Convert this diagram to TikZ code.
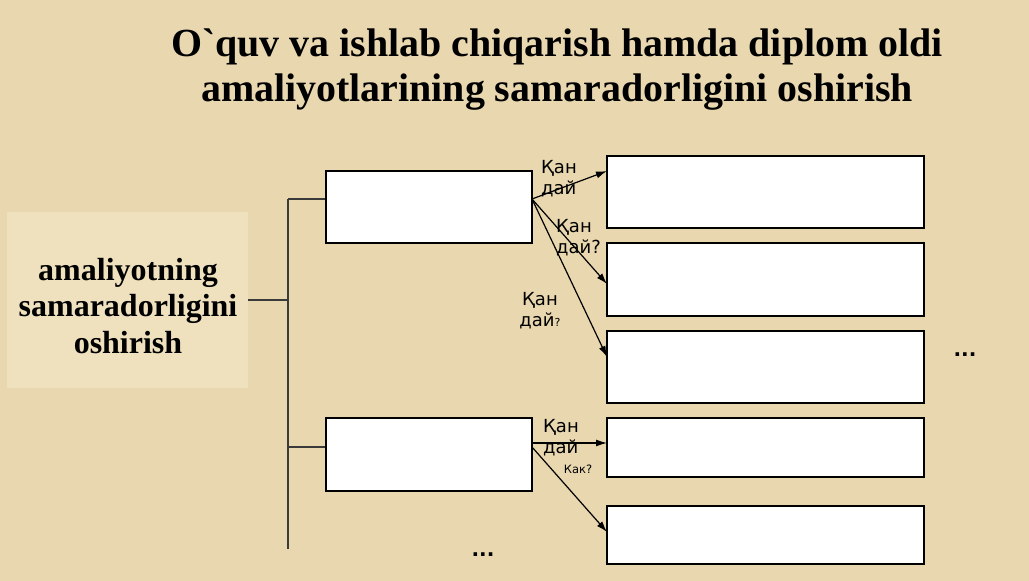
\documentclass[tikz,border=0pt]{standalone}
\usepackage{fontspec}
\setmainfont{Liberation Serif}
\newfontfamily\lblfont{DejaVu Sans}
\usetikzlibrary{arrows.meta}
\definecolor{parch}{HTML}{E9D8AF}
\definecolor{parchlight}{HTML}{EFE1BE}
\definecolor{linegray}{HTML}{3A3A3A}
\tikzset{
  emptybox/.style={draw=black, fill=white, line width=1.3pt},
  branch/.style={draw=linegray, line width=1.5pt},
  arr/.style={draw=black, line width=1.2pt, -{Latex[length=11pt,width=7pt]}},
  lbl/.style={font=\lblfont\fontsize{18}{21}\selectfont, inner sep=0pt},
  title/.style={font=\bfseries\fontsize{39.9}{45}\selectfont, inner sep=0pt, anchor=base},
  dots/.style={font=\lblfont\bfseries\fontsize{20}{22}\selectfont, inner sep=0pt},
}
\begin{document}
\begin{tikzpicture}[x=1pt,y=-1pt]
\fill[parch] (0,0) rectangle (1029,581);
\useasboundingbox (0,0) rectangle (1029,581);
% title
\node[title] (t1) at (557,56.7) {O\textasciigrave quv va ishlab chiqarish hamda diplom oldi};
\node[title] (t2) at (557,101.7) {amaliyotlarining samaradorligini oshirish};
% left box
\fill[parchlight] (7,212) rectangle (248,388);
\node[font=\bfseries\fontsize{32}{36.5}\selectfont, align=center, inner sep=0pt] (main) at (128,306) {amaliyotning\\samaradorligini\\oshirish};
\coordinate (mainE) at (248,300);
% trunk
\coordinate (tTop) at (288,199);
\coordinate (tMid) at (288,300);
\coordinate (tLow) at (288,447);
\coordinate (tBot) at (288,549);
% boxes
\node[emptybox, minimum width=206pt, minimum height=72pt, inner sep=0pt] (b1) at (429,207) {};
\node[emptybox, minimum width=206pt, minimum height=73pt, inner sep=0pt] (b2) at (429,454.5) {};
\node[emptybox, minimum width=317pt, minimum height=72pt, inner sep=0pt] (rA) at (765.5,192) {};
\node[emptybox, minimum width=317pt, minimum height=73pt, inner sep=0pt] (rB) at (765.5,279.5) {};
\node[emptybox, minimum width=317pt, minimum height=72pt, inner sep=0pt] (rC) at (765.5,367) {};
\node[emptybox, minimum width=317pt, minimum height=59pt, inner sep=0pt] (rD) at (765.5,447.5) {};
\node[emptybox, minimum width=317pt, minimum height=58pt, inner sep=0pt] (rE) at (765.5,535) {};
% branch lines
\draw[branch] (mainE) -- (tMid);
\draw[branch] (tTop) -- (tBot);
\draw[branch] (tTop) -- (b1.west |- tTop);
\draw[branch] (tLow) -- (b2.west |- tLow);
% arrow endpoints
\coordinate (s1) at (532,199);
\coordinate (s2) at (533,443);
\coordinate (s3) at (532,447);
\coordinate (eA) at (607,171);
\coordinate (eB) at (607,284);
\coordinate (eC) at (607,357);
\coordinate (eD) at (607,443);
\coordinate (eE) at (607,532);
\draw[arr] (s1) -- (eA);
\draw[arr] (s1) -- (eB);
\draw[arr] (s1) -- (eC);
\draw[arr] (s2) -- (eD);
\draw[arr] (s3) -- (eE);
% labels
\node[lbl, align=left, anchor=west] (q1) at (541,179) {Қан\\дай};
\node[lbl, align=left, anchor=west] (q2) at (556,238) {Қан\\дай?};
\node[lbl, align=center] (q3) at (540,311) {Қан\\дай{\fontsize{11}{11}\selectfont ?}};
\node[lbl, align=left, anchor=west] (q4) at (543,438) {Қан\\дай};
\node[font=\lblfont\fontsize{11.5}{13}\selectfont, inner sep=0pt] (q5) at (578,469) {Как?};
% ellipses
\node[dots] (d1) at (965,355) {...};
\node[dots] (d2) at (483,555) {...};
\end{tikzpicture}
\end{document}
